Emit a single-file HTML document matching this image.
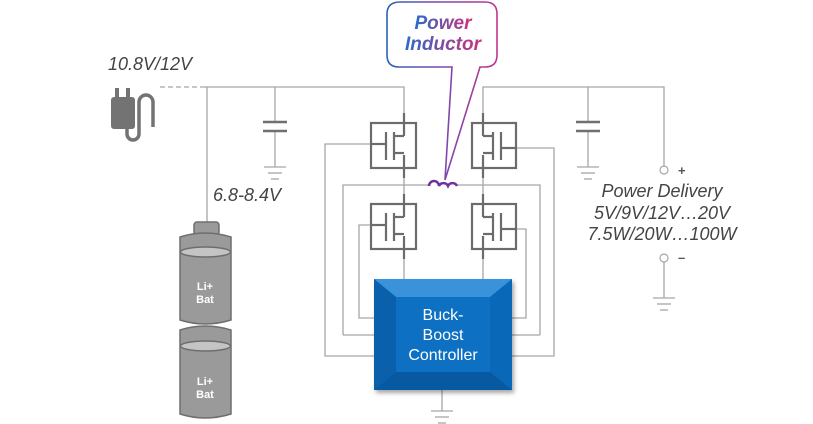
<!DOCTYPE html>
<html><head><meta charset="utf-8"><style>
html,body{margin:0;padding:0;background:#fff;}
svg{display:block;}
text{font-family:"Liberation Sans",sans-serif;}
</style></head><body>
<svg width="813" height="424" viewBox="0 0 813 424" xmlns="http://www.w3.org/2000/svg">
<defs>
<linearGradient id="cg" x1="0" y1="0" x2="1" y2="0">
<stop offset="0" stop-color="#2b62b8"/><stop offset="0.5" stop-color="#7a48b0"/><stop offset="1" stop-color="#c0358f"/></linearGradient>
<linearGradient id="tg" x1="0" y1="0" x2="1" y2="0">
<stop offset="0" stop-color="#2a6cc8"/><stop offset="1" stop-color="#d0307c"/></linearGradient>
<filter id="sh" x="-10%" y="-10%" width="130%" height="130%"><feDropShadow dx="2" dy="3" stdDeviation="2" flood-opacity="0.35"/></filter>
</defs>
<g fill="none" stroke="#a6a6a6" stroke-width="1.3">
<line x1="160" y1="87" x2="200" y2="87" stroke-dasharray="5,3"/>
<polyline points="200,87 404,87 404,113"/>
<polyline points="483,113 483,87 664,87 664,166"/>
<line x1="207" y1="87" x2="207" y2="222"/>
<line x1="275" y1="87" x2="275" y2="122"/><line x1="275" y1="131" x2="275" y2="167"/>
<line x1="588" y1="87" x2="588" y2="122"/><line x1="588" y1="131" x2="588" y2="167"/>
<line x1="264" y1="167" x2="286" y2="167"/><line x1="268" y1="173" x2="282" y2="173"/><line x1="271" y1="179" x2="279" y2="179"/>
<line x1="577" y1="167" x2="599" y2="167"/><line x1="581" y1="173" x2="595" y2="173"/><line x1="584" y1="179" x2="592" y2="179"/>
<line x1="664" y1="262" x2="664" y2="298"/>
<line x1="653" y1="298" x2="675" y2="298"/><line x1="657" y1="304" x2="671" y2="304"/><line x1="660" y1="310" x2="668" y2="310"/>
<line x1="442" y1="390" x2="442" y2="411"/>
<line x1="431" y1="411" x2="453" y2="411"/><line x1="435" y1="417" x2="449" y2="417"/><line x1="438" y1="423" x2="446" y2="423"/>
<line x1="404" y1="168" x2="404" y2="194"/><line x1="483" y1="168" x2="483" y2="194"/>
<polyline points="343,335 343,185 428,185"/><polyline points="457,185 540,185 540,335"/>
<line x1="404" y1="249" x2="404" y2="279"/><line x1="483" y1="249" x2="483" y2="279"/>
<polyline points="371,144 325,144 325,356 374,356"/>
<polyline points="343,335 374,335"/>
<polyline points="371,225 359,225 359,318 374,318"/>
<polyline points="516,148 554,148 554,356 512,356"/>
<polyline points="540,335 512,335"/>
<polyline points="516,229 526,229 526,318 512,318"/>
</g>
<circle cx="664" cy="170" r="4" fill="#fff" stroke="#a6a6a6" stroke-width="1.2"/>
<circle cx="664" cy="258" r="4" fill="#fff" stroke="#a6a6a6" stroke-width="1.2"/>
<text x="678" y="175" font-size="13" fill="#555" font-weight="bold">+</text>
<text x="678" y="262" font-size="13" fill="#555" font-weight="bold">–</text>
<g stroke="#707070" stroke-width="2.5">
<line x1="263" y1="122" x2="287" y2="122"/><line x1="263" y1="131" x2="287" y2="131"/>
<line x1="576" y1="122" x2="600" y2="122"/><line x1="576" y1="131" x2="600" y2="131"/>
</g>
<g fill="none" stroke="#6e6b6b" stroke-width="2.2">
<g id="mL">
<rect x="371" y="123" width="45" height="45"/>
<line x1="404" y1="113" x2="404" y2="136"/><line x1="404" y1="136" x2="394" y2="136"/>
<line x1="404" y1="155" x2="404" y2="178"/><line x1="404" y1="153" x2="394" y2="153"/>
<line x1="394" y1="132" x2="394" y2="160"/>
<line x1="386" y1="132" x2="386" y2="160"/>
<line x1="371" y1="144" x2="386" y2="144"/>
</g>
<use href="#mL" transform="translate(0,81)"/>
<g id="mR">
<rect x="472" y="123" width="44" height="45"/>
<line x1="483" y1="113" x2="483" y2="136"/><line x1="483" y1="136" x2="493" y2="136"/>
<line x1="483" y1="155" x2="483" y2="178"/><line x1="483" y1="153" x2="493" y2="153"/>
<line x1="493" y1="132" x2="493" y2="160"/>
<line x1="501" y1="132" x2="501" y2="160"/>
<line x1="501" y1="148" x2="516" y2="148"/>
</g>
<use href="#mR" transform="translate(0,81)"/>
</g>
<path d="M429,186 a5,5 0 0 1 10,0 a5,5 0 0 1 9,0 a5,5 0 0 1 9,0" fill="none" stroke="#7030a0" stroke-width="2.5"/>
<path d="M400,2 H485 Q497,2 497,14 V55 Q497,67 485,67 H480 L445,180 L452,67 H399 Q387,67 387,55 V14 Q387,2 400,2 Z" fill="#fff" stroke="url(#cg)" stroke-width="1.6"/>
<text x="443" y="29" font-size="19" font-weight="bold" font-style="italic" text-anchor="middle" fill="url(#tg)">Power</text>
<text x="443" y="50" font-size="19" font-weight="bold" font-style="italic" text-anchor="middle" fill="url(#tg)">Inductor</text>
<text x="108" y="70" font-size="18" font-style="italic" fill="#444">10.8V/12V</text>
<text x="213" y="201" font-size="18" font-style="italic" fill="#444">6.8-8.4V</text>
<g font-size="18" font-style="italic" fill="#444" text-anchor="middle">
<text x="662" y="197">Power Delivery</text>
<text x="662" y="219">5V/9V/12V…20V</text>
<text x="662" y="240">7.5W/20W…100W</text>
</g>
<g fill="#737373">
<rect x="111" y="97" width="24" height="32" rx="3"/>
<rect x="115" y="88" width="4" height="10"/><rect x="126" y="88" width="4" height="10"/>
</g>
<path d="M127,128 v6 a6,6 0 0 0 12,0 v-32 a7,7 0 0 1 14,0 v25" fill="none" stroke="#737373" stroke-width="3.5"/>
<g stroke="#6e6e6e" stroke-width="1.5">
<rect x="194" y="222" width="25" height="13" rx="3" fill="#9a9a9a"/>
<path d="M180,237 Q205,229 231,237 V320 Q205,328 180,320 Z" fill="#9a9a9a"/>
<ellipse cx="205.5" cy="252" rx="25" ry="5" fill="#c4c4c4"/>
<path d="M180,330 Q205,322 231,330 V414 Q205,422 180,414 Z" fill="#9a9a9a"/>
<ellipse cx="205.5" cy="346" rx="25" ry="5" fill="#c4c4c4"/>
</g>
<g font-size="11" font-weight="bold" fill="#fff" text-anchor="middle">
<text x="205" y="290">Li+</text><text x="205" y="303">Bat</text>
<text x="205" y="385">Li+</text><text x="205" y="398">Bat</text>
</g>
<g filter="url(#sh)">
<rect x="374" y="279" width="138" height="111" fill="#0a6fc2"/>
</g>
<polygon points="374,279 512,279 490,297 396,297" fill="#3a92da"/>
<polygon points="374,279 396,297 396,372 374,390" fill="#0a60aa"/>
<polygon points="512,279 490,297 490,372 512,390" fill="#0a68b8"/>
<polygon points="374,390 396,372 490,372 512,390" fill="#0759a2"/>
<g font-size="16" fill="#fff" text-anchor="middle">
<text x="443" y="320">Buck-</text><text x="443" y="340">Boost</text><text x="443" y="360">Controller</text>
</g>
</svg>
</body></html>
